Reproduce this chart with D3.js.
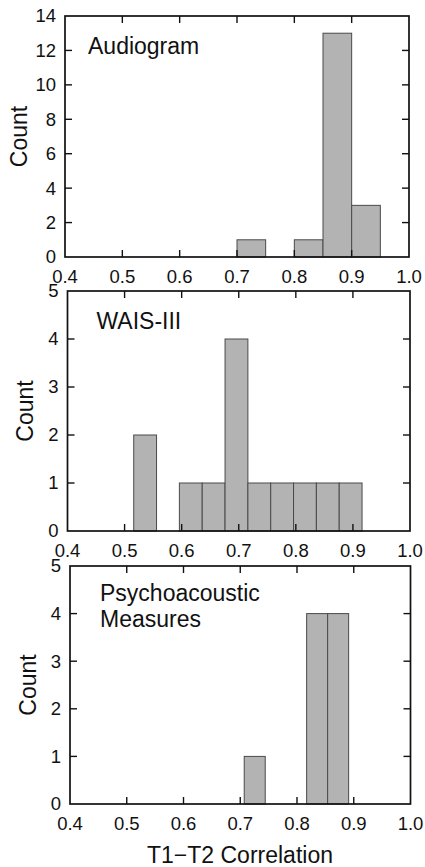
<!DOCTYPE html>
<html lang="en">
<head>
    <meta charset="UTF-8">
    <title>T1-T2 Correlation histograms</title>
    <script src="https://d3js.org/d3.v7.min.js"></script>
    <style>
        body { margin: 0; background: #fff; }
        svg { display: block; }
        text { font-family: "Liberation Sans", Arial, sans-serif; fill: #111; }
    </style>
</head>
<body>
<div id="chart"></div>
<script>
    // x axis ticks shared by all panels
    const xTicks = [0.4, 0.5, 0.6, 0.7, 0.8, 0.9, 1.0];

    // Audiogram: bin starts, counts (bin width 0.05)
    const audioBins = [0.70, 0.80, 0.85, 0.90];
    const audioCounts = [1, 1, 13, 3];
    const audioYTicks = [0, 2, 4, 6, 8, 10, 12, 14];

    // WAIS-III: bin starts, counts (bin width 0.04)
    const waisBins = [0.516, 0.596, 0.636, 0.676, 0.716, 0.756, 0.796, 0.836, 0.876];
    const waisCounts = [2, 1, 1, 4, 1, 1, 1, 1, 1];
    const waisYTicks = [0, 1, 2, 3, 4, 5];

    // Psychoacoustic measures: bin starts, counts (bin width 0.037)
    const psychoBins = [0.707, 0.817, 0.854];
    const psychoCounts = [1, 4, 4];
    const psychoYTicks = [0, 1, 2, 3, 4, 5];

    const width = 425, height = 867;

    const svg = d3.select("#chart")
        .append("svg")
        .attr("width", width)
        .attr("height", height);

    const panels = [
        {bins: audioBins, counts: audioCounts, binWidth: 0.05, yTicks: audioYTicks, yMax: 14,
         left: 65, right: 409, top: 16, bottom: 257, countX: 19,
         label: ["Audiogram"], labelX: 88, labelY: 54},
        {bins: waisBins, counts: waisCounts, binWidth: 0.04, yTicks: waisYTicks, yMax: 5,
         left: 67.5, right: 410, top: 291, bottom: 531, countX: 25,
         label: ["WAIS-III"], labelX: 96.5, labelY: 329},
        {bins: psychoBins, counts: psychoCounts, binWidth: 0.037, yTicks: psychoYTicks, yMax: 5,
         left: 70, right: 410.5, top: 566, bottom: 804, countX: 28,
         label: ["Psychoacoustic", "Measures"], labelX: 100, labelY: 601}
    ];

    panels.forEach(drawPanel);

    function drawPanel(p) {
        const x = d3.scaleLinear().domain([0.4, 1.0]).range([p.left, p.right]);
        const y = d3.scaleLinear().domain([0, p.yMax]).range([p.bottom, p.top]);
        const g = svg.append("g");
        const tickLen = 7;

        // bars
        g.append("g")
            .selectAll("rect")
            .data(p.bins.map((b, i) => ({x0: b, x1: b + p.binWidth, n: p.counts[i]})))
            .join("rect")
            .attr("x", d => x(d.x0))
            .attr("width", d => x(d.x1) - x(d.x0))
            .attr("y", d => y(d.n))
            .attr("height", d => y(0) - y(d.n))
            .attr("fill", "#b3b3b3")
            .attr("stroke", "#4a4a4a")
            .attr("stroke-width", 1);

        // inward ticks on all four sides
        const inner = xTicks.slice(1, -1);
        const yInner = p.yTicks.slice(1, -1);
        const ticks = g.append("g").attr("stroke", "#111").attr("stroke-width", 1.4);
        inner.forEach(t => {
            ticks.append("line").attr("x1", x(t)).attr("x2", x(t)).attr("y1", y(0)).attr("y2", y(0) - tickLen);
            ticks.append("line").attr("x1", x(t)).attr("x2", x(t)).attr("y1", y(p.yMax)).attr("y2", y(p.yMax) + tickLen);
        });
        yInner.forEach(t => {
            ticks.append("line").attr("x1", p.left).attr("x2", p.left + tickLen).attr("y1", y(t)).attr("y2", y(t));
            ticks.append("line").attr("x1", p.right).attr("x2", p.right - tickLen).attr("y1", y(t)).attr("y2", y(t));
        });

        // frame
        g.append("rect")
            .attr("x", p.left).attr("y", p.top)
            .attr("width", p.right - p.left).attr("height", p.bottom - p.top)
            .attr("fill", "none").attr("stroke", "#111").attr("stroke-width", 1.7);

        // tick labels
        g.append("g").selectAll("text")
            .data(xTicks)
            .join("text")
            .attr("x", d => x(d))
            .attr("y", p.bottom + 26)
            .attr("text-anchor", "middle")
            .attr("font-size", 18.5)
            .text(d => d.toFixed(1));

        g.append("g").selectAll("text")
            .data(p.yTicks)
            .join("text")
            .attr("x", p.left - 9)
            .attr("y", d => y(d))
            .attr("dy", "0.35em")
            .attr("text-anchor", "end")
            .attr("font-size", 18.5)
            .text(d => d);

        // y axis title
        g.append("text")
            .attr("transform", `translate(${p.countX},${(p.top + p.bottom) / 2}) rotate(-90)`)
            .attr("dy", "0.35em")
            .attr("text-anchor", "middle")
            .attr("font-size", 23)
            .text("Count");

        // panel label
        g.append("g").selectAll("text")
            .data(p.label)
            .join("text")
            .attr("x", p.labelX)
            .attr("y", (d, i) => p.labelY + i * 26)
            .attr("font-size", 23)
            .text(d => d);
    }

    svg.append("text")
        .attr("x", 240)
        .attr("y", 863)
        .attr("text-anchor", "middle")
        .attr("font-size", 23)
        .text("T1\u2212T2 Correlation");
</script>
</body>
</html>
